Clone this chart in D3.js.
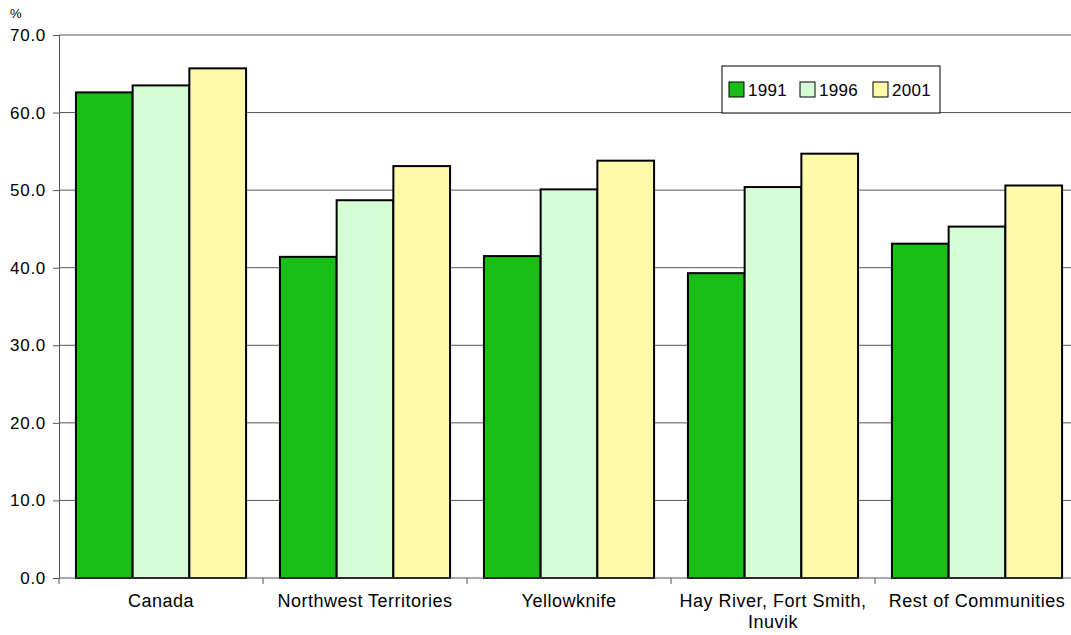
<!DOCTYPE html>
<html><head><meta charset="utf-8">
<script src="https://cdn.jsdelivr.net/npm/d3@7/dist/d3.min.js"></script>
<style>body{margin:0;background:#fff}svg{display:block;font-family:"Liberation Sans",Arial,sans-serif}</style>
</head><body><svg id="c" width="1071" height="635"></svg>
<script>
const categories = ["Canada", "Northwest Territories", "Yellowknife", "Hay River, Fort Smith,|Inuvik", "Rest of Communities"];
const seriesNames = ["1991", "1996", "2001"];
const v1991 = [62.6, 41.4, 41.5, 39.3, 43.1];
const v1996 = [63.5, 48.7, 50.1, 50.4, 45.3];
const v2001 = [65.7, 53.1, 53.8, 54.7, 50.6];
const yTicks = [0, 10, 20, 30, 40, 50, 60, 70];
const colors = ["#17bf17", "#d6fcd6", "#fffaa8"];

(function() {
const series = [v1991, v1996, v2001];
const svg = d3.select("#c");
const mL = 59, mT = 35, mB = 578, mR = 1079;
const x = d3.scaleBand().domain(categories).range([mL, mR]).paddingInner(0.166).paddingOuter(0.083);
const x0 = d3.scaleBand().domain(categories).range([mL, mR]);
const xs = d3.scaleBand().domain(seriesNames).range([0, x.bandwidth()]);
const y = d3.scaleLinear().domain([0, 70]).range([mB, mT]);

// gridlines
svg.append("g").selectAll("line").data(yTicks.filter(d => d > 0)).join("line")
  .attr("x1", mL).attr("x2", 1071).attr("y1", d => y(d)).attr("y2", d => y(d))
  .attr("stroke", "#555").attr("stroke-width", 1);

// bars
categories.forEach((c, i) => {
  series.forEach((s, j) => {
    svg.append("rect")
      .attr("x", x(c) + xs(seriesNames[j]))
      .attr("y", y(s[i]))
      .attr("width", xs.bandwidth())
      .attr("height", y(0) - y(s[i]))
      .attr("fill", colors[j]).attr("stroke", "#000").attr("stroke-width", 2);
  });
});

// y axis
const ya = svg.append("g").attr("transform", `translate(${mL},0)`)
  .call(d3.axisLeft(y).tickValues(yTicks).tickFormat(d3.format(".1f")).tickSize(6).tickPadding(7));
ya.select(".domain").attr("stroke", "#555");
ya.selectAll(".tick line").attr("stroke", "#555");
ya.selectAll("text").attr("font-size", 17).attr("letter-spacing", "0.7px").attr("fill", "#000")
  .attr("font-family", "Liberation Sans, Arial, sans-serif");

// x axis
const xa = svg.append("g").attr("transform", `translate(0,${mB})`);
xa.append("line").attr("x1", mL).attr("x2", 1071).attr("y1", 0).attr("y2", 0).attr("stroke", "#555");
xa.selectAll(".tk").data(categories).join("line")
  .attr("x1", d => x0(d)).attr("x2", d => x0(d)).attr("y1", 0).attr("y2", 6).attr("stroke", "#555");
xa.selectAll(".lbl").data(categories).join("text")
  .attr("x", d => x0(d) + x0.bandwidth() / 2).attr("y", 29)
  .attr("text-anchor", "middle").attr("font-size", 18).attr("letter-spacing", "0.5px").attr("fill", "#000")
  .each(function(d) {
    const parts = d.split("|");
    d3.select(this).selectAll("tspan").data(parts).join("tspan")
      .attr("x", x0(d) + x0.bandwidth() / 2).attr("dy", (p, k) => k === 0 ? 0 : 21).text(p => p);
  });

// % label
svg.append("text").attr("x", 10).attr("y", 18).attr("font-size", 13).text("%");

// legend
const lg = svg.append("g").attr("transform", "translate(722,66)");
lg.append("rect").attr("width", 218).attr("height", 47).attr("fill", "#fff").attr("stroke", "#000").attr("stroke-width", 1);
const lx = [7, 78, 151];
seriesNames.forEach((n, j) => {
  lg.append("rect").attr("x", lx[j]).attr("y", 16).attr("width", 15).attr("height", 15)
    .attr("fill", colors[j]).attr("stroke", "#000").attr("stroke-width", 1);
  lg.append("text").attr("x", lx[j] + 19).attr("y", 30).attr("font-size", 17).attr("letter-spacing", "0.3px").text(n);
});
})();
</script></body></html>
